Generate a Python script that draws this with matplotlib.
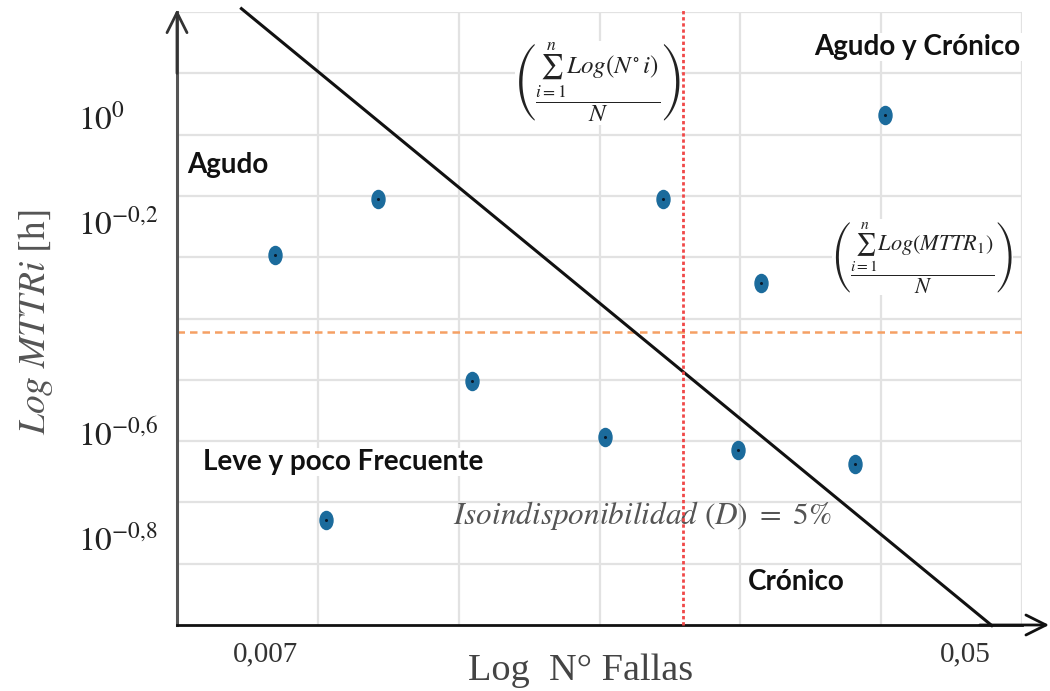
import numpy as np
import matplotlib
matplotlib.use('Agg')
import matplotlib.pyplot as plt
from matplotlib.path import Path
from matplotlib.markers import MarkerStyle
from matplotlib.transforms import Affine2D
from matplotlib.ticker import FixedLocator, FixedFormatter, NullLocator

# ---------------- data ----------------
n_fallas = [0.0072, 0.0083, 0.0096, 0.0125, 0.0182, 0.0214, 0.0264, 0.0282, 0.0367, 0.0399]
mttr_h = [0.545, 0.171, 0.697, 0.314, 0.246, 0.697, 0.233, 0.483, 0.219, 1.005]
mean_n_fallas = 0.02265
mean_mttr = 0.389
iso_n = [0.00655, 0.0539]
iso_mttr = [1.60, 0.108]
xtick_values = [0.007, 0.05]
xtick_labels = ['0,007', '0,05']
ytick_exponents = [0, -0.2, -0.6, -0.8]
ytick_labels = [r'$10^{0}$', r'$10^{-0{,}2}$', r'$10^{-0{,}6}$', r'$10^{-0{,}8}$']
x_limits = [0.005466, 0.05867]
y_limits = [10 ** -0.9655, 10 ** 0.1977]

plt.rcParams['mathtext.fontset'] = 'stix'

fig = plt.figure(figsize=(10.5, 6.91), dpi=100)
ax = fig.add_axes([177 / 1050, 1 - 625 / 691, 845 / 1050, 613 / 691])
ax.set_xscale('log')
ax.set_yscale('log')
ax.set_xlim(x_limits)
ax.set_ylim(y_limits)

# grid (evenly spaced in the frame)
grid_c = '#e2e2e2'
for f in np.linspace(0, 1, 11)[1:]:
    ax.plot([0, 1], [f, f], transform=ax.transAxes, color=grid_c, lw=1.6, zorder=0)
for f in np.linspace(0, 1, 7)[1:]:
    ax.plot([f, f], [0, 1], transform=ax.transAxes, color=grid_c, lw=1.6, zorder=0)

for s in ['top', 'right']:
    ax.spines[s].set_visible(False)
ax.spines['left'].set_color('#555555')
ax.spines['left'].set_linewidth(2.2)
ax.spines['bottom'].set_color('#111111')
ax.spines['bottom'].set_linewidth(2.0)

# arrows on axes
ax.annotate('', xy=(0, 1.004), xytext=(0, 0.9), xycoords='axes fraction',
            arrowprops=dict(arrowstyle='->,head_length=0.6,head_width=0.3',
                            lw=2, color='#333333', mutation_scale=24, shrinkA=0, shrinkB=0))
ax.annotate('', xy=(1.032, 0), xytext=(0.95, 0), xycoords='axes fraction',
            arrowprops=dict(arrowstyle='->,head_length=0.6,head_width=0.3',
                            lw=2, color='#111111', mutation_scale=24, shrinkA=0, shrinkB=0))

# ticks
ax.xaxis.set_major_locator(FixedLocator(xtick_values))
ax.xaxis.set_major_formatter(FixedFormatter(xtick_labels))
ax.xaxis.set_minor_locator(NullLocator())
ax.yaxis.set_major_locator(FixedLocator([10 ** e for e in ytick_exponents]))
ax.yaxis.set_major_formatter(FixedFormatter(ytick_labels))
ax.yaxis.set_minor_locator(NullLocator())
ax.tick_params(axis='x', length=0, pad=12, labelsize=21, labelcolor='#333333')
ax.tick_params(axis='y', length=0, pad=71, labelsize=24, labelcolor='#222222')
for lab in ax.get_xticklabels():
    lab.set_fontfamily('Liberation Serif')
for lab in ax.get_yticklabels():
    lab.set_horizontalalignment('left')

# axis labels
fig.text(581 / 1050, 1 - 671 / 691, 'Log  N\u00b0 Fallas', ha='center', va='center',
         fontsize=27.5, family='Liberation Serif', color='#444444')
fig.text(36 / 1050, 1 - 322 / 691, r'$\mathit{Log\ MTTRi}\ \mathrm{[h]}$', ha='center', va='center',
         rotation=90, fontsize=27, color='#555555')

# mean lines
ax.axvline(mean_n_fallas, ymin=0, ymax=1.003, color='#f04848', lw=2.0, ls=(0, (1.2, 1.0)),
           zorder=4, clip_on=False)
ax.axhline(mean_mttr, color='#f5a064', lw=1.8, ls=(0, (3, 2)), zorder=2)

# iso-availability line
ax.plot(iso_n, iso_mttr, color='#111111', lw=2.2, zorder=3, clip_on=False)

# points
ell = Path.unit_circle().transformed(Affine2D().scale(0.72, 1.0))
ax.plot(n_fallas, mttr_h, ls='none', marker=MarkerStyle(ell), ms=13,
        mfc='#1b6b9c', mec='#1b6b9c', zorder=5)
ax.plot(n_fallas, mttr_h, ls='none', marker='o', ms=2.2, mfc='#0a1a2a', mec='none', zorder=6)

# region labels
bold = dict(family='Lato', fontweight='bold', fontsize=20, color='#111111')
white = dict(facecolor='white', edgecolor='none', pad=1)
ax.text(0.012, 0.750, 'Agudo', transform=ax.transAxes, ha='left', va='center', bbox=white, **bold)
ax.text(0.998, 0.943, 'Agudo y Cr\u00f3nico', transform=ax.transAxes, ha='right', va='center', bbox=white, **bold)
ax.text(0.031, 0.266, 'Leve y poco Frecuente', transform=ax.transAxes, ha='left', va='center', bbox=white, **bold)
ax.text(0.676, 0.070, 'Cr\u00f3nico', transform=ax.transAxes, ha='left', va='center', **bold)
ax.text(0.327, 0.179, r'$Isoindisponibilidad\ (D)\ =\ 5\%$', transform=ax.transAxes, ha='left',
        va='center', fontsize=22.5, color='#555555', zorder=3)

# formulas
ax.text(0.498, 0.884, r'$\left(\dfrac{\sum_{i=1}^{n} Log(N^{\circ}\, i)}{N}\right)$',
        transform=ax.transAxes, ha='center', va='center', fontsize=18, color='#222222',
        bbox=dict(facecolor='white', edgecolor='none', pad=0), zorder=3)
ax.text(0.882, 0.600, r'$\left(\dfrac{\sum_{i=1}^{n} Log(MTTR_{1})}{N}\right)$',
        transform=ax.transAxes, ha='center', va='center', fontsize=16, color='#222222',
        bbox=dict(facecolor='white', edgecolor='none', pad=0), zorder=3)

fig.savefig('out.png', dpi=100)
